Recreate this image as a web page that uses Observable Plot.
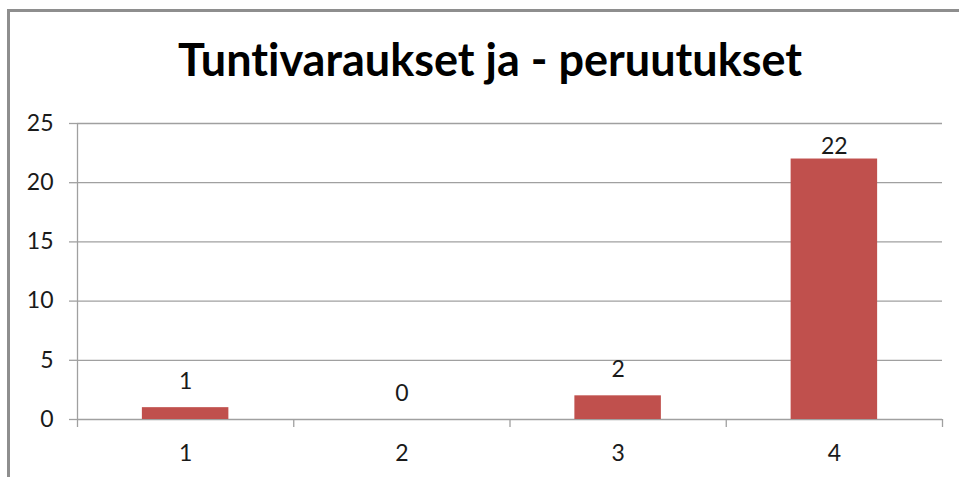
<!DOCTYPE html>
<html>
<head>
<meta charset="utf-8">
<script src="https://cdn.jsdelivr.net/npm/d3@7"></script>
<script src="https://cdn.jsdelivr.net/npm/@observablehq/plot@0.6"></script>
<style>
  html, body { margin: 0; padding: 0; background: #fff; }
  #wrap { position: relative; width: 959px; height: 477px; overflow: hidden; }
  #frame { position: absolute; left: 7px; top: 9px; width: 1000px; height: 1000px;
           border-left: 3px solid #8e8e8e; border-top: 3px solid #8e8e8e; box-sizing: border-box; }
  #title { position: absolute; left: 0; top: 37px; width: 980px; text-align: center;
           font-family: Lato, sans-serif; font-weight: bold; font-size: 45px; line-height: 1;
           font-variant-ligatures: none; font-feature-settings: "liga" 0, "clig" 0;
           color: #000; white-space: nowrap; }
  #chart { position: absolute; left: 0; top: 0; }
</style>
</head>
<body>
<div id="wrap">
  <div id="frame"></div>
  <div id="chart"></div>
  <div id="title">Tuntivaraukset ja - peruutukset</div>
</div>
<script>
const titleText = "Tuntivaraukset ja - peruutukset";
const categories = [1, 2, 3, 4];
const values = [1, 0, 2, 22];
const yTicks = [0, 5, 10, 15, 20, 25];

const data = categories.map((c, i) => ({c, v: values[i]}));
const boundaries = [...categories.map(c => c - 0.5), categories[categories.length - 1] + 0.5];
const grid = "#a0a0a0";
const ink = "#1a1a1a";

document.getElementById("title").textContent = titleText;

const chart = Plot.plot({
  width: 959,
  height: 477,
  marginTop: 123,
  marginBottom: 58,
  marginLeft: 77,
  marginRight: 17,
  style: {fontFamily: "Lato, sans-serif", fontSize: "23px", background: "transparent", color: ink},
  x: {type: "linear", domain: [boundaries[0], boundaries[boundaries.length - 1]], label: null},
  y: {domain: [0, 25], label: null},
  marks: [
    Plot.ruleY(yTicks, {stroke: grid, strokeWidth: 1.3}),
    Plot.ruleX([boundaries[0]], {stroke: grid, strokeWidth: 1.3}),
    Plot.axisY({ticks: yTicks, tickSize: 8, tickPadding: 16, stroke: grid, strokeWidth: 1.3, fill: ink, strokeOpacity: 1}),
    Plot.axisX({ticks: boundaries, tickSize: 8, tickFormat: () => "", stroke: grid, strokeWidth: 1.3, strokeOpacity: 1}),
    Plot.axisX({ticks: categories, tickSize: 0, tickPadding: 25, tickFormat: d => String(d), fill: ink}),
    Plot.rect(data, {x1: d => d.c - 0.2, x2: d => d.c + 0.2, y1: 0, y2: "v", fill: "#C0504D"}),
    Plot.text(data.filter(d => d.v < 20), {x: "c", y: "v", text: d => String(d.v), dy: -19, lineAnchor: "bottom", fill: ink}),
    Plot.text(data.filter(d => d.v >= 20), {x: "c", y: "v", text: d => String(d.v), dy: -5, lineAnchor: "bottom", fill: ink})
  ]
});
document.getElementById("chart").appendChild(chart);
</script>
</body>
</html>
